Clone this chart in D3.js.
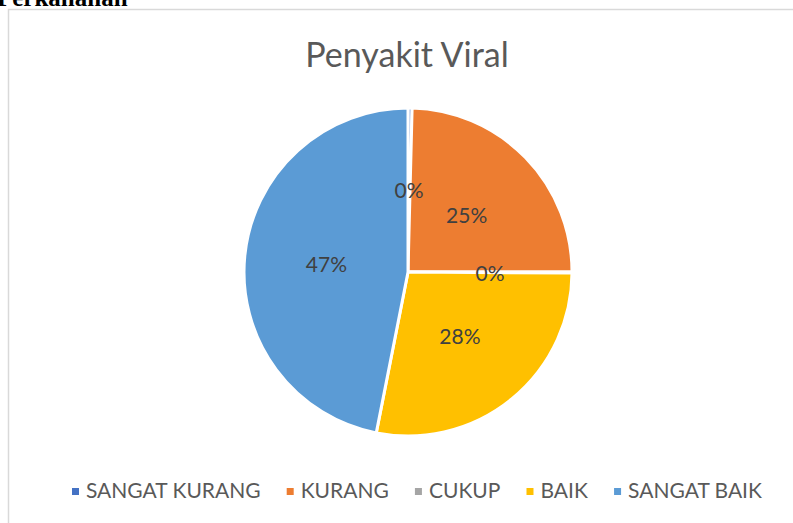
<!DOCTYPE html>
<html>
<head>
<meta charset="utf-8">
<script src="https://cdn.jsdelivr.net/npm/d3@7"></script>
<style>
  body { margin: 0; background: #fff; }
  svg { display: block; }
</style>
</head>
<body>
<div id="chart"></div>
<script>
// Chart data
const categories = ["SANGAT KURANG", "KURANG", "CUKUP", "BAIK", "SANGAT BAIK"];
const values = [0.4, 24.6, 0.1, 28.0, 46.9];
const colors = ["#4472c4", "#ed7d31", "#a5a5a5", "#ffc000", "#5b9bd5"];
const title = "Penyakit Viral";
const headingText = "Perkahanan";

const W = 793, H = 523;
const svg = d3.select("#chart").append("svg")
    .attr("width", W)
    .attr("height", H);

// cut-off heading of the page above the chart
svg.append("text")
    .attr("x", -3)
    .attr("y", 6)
    .attr("font-family", "Liberation Serif, serif")
    .attr("font-weight", "bold")
    .attr("font-size", "25px")
    .attr("fill", "#000")
    .text(headingText);

// chart frame
svg.append("rect")
    .attr("x", 8.5)
    .attr("y", 9.5)
    .attr("width", W)
    .attr("height", H)
    .attr("fill", "none")
    .attr("stroke", "#d9d9d9")
    .attr("stroke-width", 1.5);

// title
svg.append("text")
    .attr("x", 407)
    .attr("y", 67)
    .attr("text-anchor", "middle")
    .attr("font-family", "Lato, sans-serif")
    .attr("font-size", "34px")
    .attr("fill", "#595959")
    .text(title);

// pie
const cx = 408, cy = 272, radius = 164;
const pie = d3.pie().sort(null).value(d => d);
const arcs = pie(values);
const arc = d3.arc().innerRadius(0).outerRadius(radius);
const labelArc = d3.arc().innerRadius(radius * 0.5).outerRadius(radius * 0.5);

const g = svg.append("g").attr("transform", `translate(${cx},${cy})`);

g.selectAll("path")
    .data(arcs)
    .join("path")
    .attr("d", arc)
    .attr("fill", (d, i) => colors[i])
    .attr("stroke", "#fff")
    .attr("stroke-width", 3);

const total = d3.sum(values);
g.selectAll("text.label")
    .data(arcs)
    .join("text")
    .attr("class", "label")
    .attr("transform", d => `translate(${labelArc.centroid(d)})`)
    .attr("text-anchor", "middle")
    .attr("dy", "0.4em")
    .attr("font-family", "Lato, sans-serif")
    .attr("font-size", "21px")
    .attr("fill", "#404040")
    .text(d => Math.round(d.data / total * 100) + "%");

// legend
const legend = svg.append("g").attr("class", "legend");
const legendY = 491;
const items = legend.selectAll("g")
    .data(categories)
    .join("g");

items.append("rect")
    .attr("width", 7)
    .attr("height", 7)
    .attr("y", legendY - 3)
    .attr("fill", (d, i) => colors[i]);

items.append("text")
    .attr("x", 14)
    .attr("y", legendY)
    .attr("dy", "0.35em")
    .attr("font-family", "Lato, sans-serif")
    .attr("font-size", "21px")
    .attr("fill", "#595959")
    .text(d => d);

// lay legend items out in a row spanning the bottom of the frame
const widths = [];
items.each(function () { widths.push(this.getBBox().width); });
const spanStart = 72, spanEnd = 762;
const gap = (spanEnd - spanStart - d3.sum(widths)) / (widths.length - 1);
let xPos = spanStart;
const offsets = widths.map(w => { const o = xPos; xPos += w + gap; return o; });
items.attr("transform", (d, i) => `translate(${offsets[i]},0)`);
</script>
</body>
</html>
